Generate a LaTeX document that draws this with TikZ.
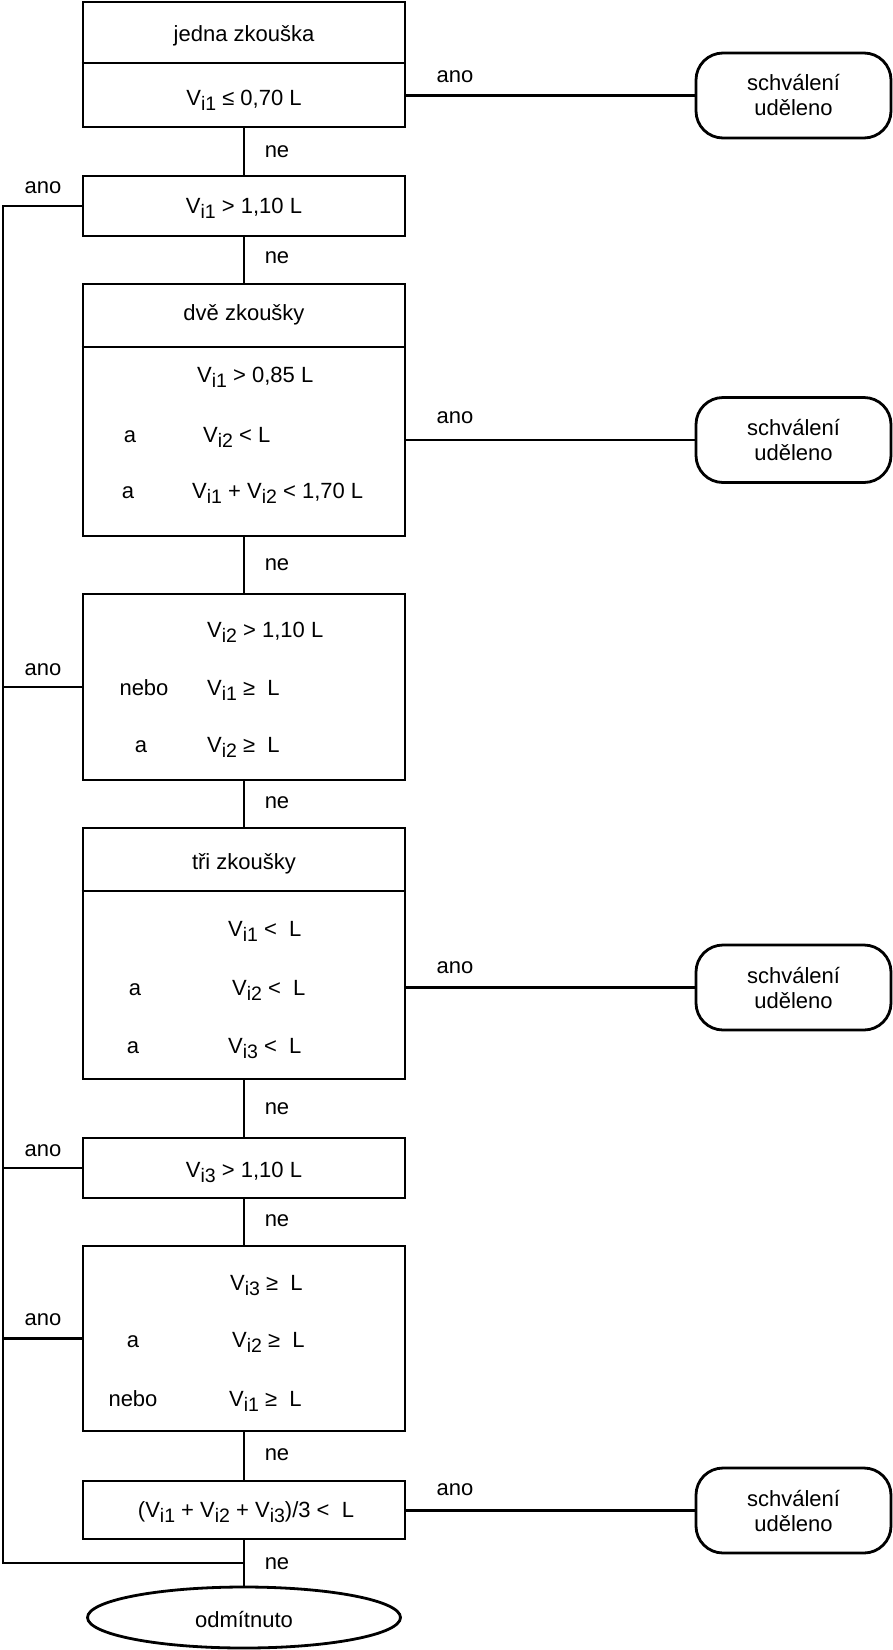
\documentclass[tikz,border=0pt]{standalone}
\usepackage{fontspec}
\setmainfont{Liberation Sans}
\usetikzlibrary{shapes.geometric}
\newcommand\Vi[1]{V\raisebox{-5.5pt}{\fontsize{19.5}{19.5}\selectfont #1}}
\begin{document}
\begin{tikzpicture}[x=1pt,y=-1pt,
  every node/.style={font=\fontsize{22}{25}\selectfont},
  ln/.style={line width=2.8pt},
  box/.style={draw, line width=2.8pt, rectangle, minimum width=322pt, inner sep=0pt},
  term/.style={draw, line width=2.8pt, rounded corners=27pt, minimum width=195pt, minimum height=85pt, align=center, inner sep=0pt},
  txt/.style={anchor=base, inner sep=0pt},
  txl/.style={anchor=base west, inner sep=0pt},
  lab/.style={inner sep=0pt}]
\useasboundingbox (0,0) rectangle (893,1650);

% boxes
\node[box, minimum height=125pt] (b1) at (244,64.5) {};
\node[box, minimum height=60pt]  (b2) at (244,206) {};
\node[box, minimum height=252pt] (b3) at (244,410) {};
\node[box, minimum height=186pt] (b4) at (244,687) {};
\node[box, minimum height=251pt] (b5) at (244,953.5) {};
\node[box, minimum height=60pt]  (b6) at (244,1168) {};
\node[box, minimum height=185pt] (b7) at (244,1338.5) {};
\node[box, minimum height=58pt]  (b8) at (244,1510) {};
\node[draw, line width=2.8pt, ellipse, minimum width=313pt, minimum height=61pt, inner sep=0pt] (rej) at (244,1617.5) {};
\node[txt] (rejt) at (244,1627) {odmítnuto};

% dividers
\coordinate (d1) at (0,63);
\coordinate (d3) at (0,347);
\coordinate (d5) at (0,891);
\draw[ln] (b1.west |- d1) -- (b1.east |- d1);
\draw[ln] (b3.west |- d3) -- (b3.east |- d3);
\draw[ln] (b5.west |- d5) -- (b5.east |- d5);

% terminators
\node[term] (t1) at (793.5,95.5) {schválení\\uděleno};
\node[term] (t2) at (793.5,440) {schválení\\uděleno};
\node[term] (t3) at (793.5,987.5) {schválení\\uděleno};
\node[term] (t4) at (793.5,1510.5) {schválení\\uděleno};

% box texts
\node[txt] (x1a) at (244,41) {jedna zkouška};
\node[txt] (x1b) at (244,105) {\Vi{i1} ≤ 0,70 L};
\node[txt] (x2) at (244,213) {\Vi{i1} > 1,10 L};
\node[txt] (x3h) at (244,320) {dvě zkoušky};
\node[txl] (x3a) at (197,382) {\Vi{i1} > 0,85 L};
\node[txt] (x3ba) at (130,442) {a};
\node[txl] (x3b) at (203,442) {\Vi{i2} < L};
\node[txt] (x3ca) at (128,498) {a};
\node[txl] (x3c) at (192,498) {\Vi{i1} + \Vi{i2} < 1,70 L};

\node[txl] (x4a) at (207,637) {\Vi{i2} > 1,10 L};
\node[txt] (x4ba) at (144,695) {nebo};
\node[txl] (x4b) at (207,695) {\Vi{i1} ≥\ \ L};
\node[txt] (x4ca) at (141,752) {a};
\node[txl] (x4c) at (207,752) {\Vi{i2} ≥\ \ L};

\node[txt] (x5h) at (244,869) {tři zkoušky};
\node[txl] (x5a) at (228,936) {\Vi{i1} <\ \ L};
\node[txt] (x5ba) at (135,995) {a};
\node[txl] (x5b) at (232,995) {\Vi{i2} <\ \ L};
\node[txt] (x5ca) at (133,1053) {a};
\node[txl] (x5c) at (228,1053) {\Vi{i3} <\ \ L};

\node[txt] (x6) at (244,1177) {\Vi{i3} > 1,10 L};

\node[txl] (x7a) at (230,1290) {\Vi{i3} ≥\ \ L};
\node[txt] (x7ba) at (133,1347) {a};
\node[txl] (x7b) at (232,1347) {\Vi{i2} ≥\ \ L};
\node[txt] (x7ca) at (133,1406) {nebo};
\node[txl] (x7c) at (229,1406) {\Vi{i1} ≥\ \ L};

\node[txt] (x8) at (246,1517) {(\Vi{i1} + \Vi{i2} + \Vi{i3})/3 <\ \ L};

% vertical connectors
\draw[ln] (b1.south) -- (b2.north);
\draw[ln] (b2.south) -- (b3.north);
\draw[ln] (b3.south) -- (b4.north);
\draw[ln] (b4.south) -- (b5.north);
\draw[ln] (b5.south) -- (b6.north);
\draw[ln] (b6.south) -- (b7.north);
\draw[ln] (b7.south) -- (b8.north);
\draw[ln] (b8.south) -- (rej.north);

% ano to terminators
\draw[ln] (t1.west -| b1.east) -- (t1.west);
\draw[ln] (t2.west -| b3.east) -- (t2.west);
\draw[ln] (t3.west -| b5.east) -- (t3.west);
\draw[ln] (t4.west -| b8.east) -- (t4.west);

% left bus
\coordinate (busA) at (3,206);
\coordinate (busB) at (3,1563);
\coordinate (join) at (244,1563);
\draw[ln] (b2.west) -- (busA) -- (busB) -- (join);
\draw[ln] (b4.west) -- (b4.west -| busA);
\draw[ln] (b6.west) -- (b6.west -| busA);
\draw[ln] (b7.west) -- (b7.west -| busA);

% ne labels
\node[lab] (n1) at (277,152) {ne};
\node[lab] (n2) at (277,258) {ne};
\node[lab] (n3) at (277,565) {ne};
\node[lab] (n4) at (277,803) {ne};
\node[lab] (n5) at (277,1109) {ne};
\node[lab] (n6) at (277,1221) {ne};
\node[lab] (n7) at (277,1455) {ne};
\node[lab] (n8) at (277,1564) {ne};

% ano labels right
\node[lab] (a1) at (455,77) {ano};
\node[lab] (a2) at (455,418) {ano};
\node[lab] (a3) at (455,968) {ano};
\node[lab] (a4) at (455,1490) {ano};

% ano labels left
\node[lab] (l1) at (43,188) {ano};
\node[lab] (l2) at (43,670) {ano};
\node[lab] (l3) at (43,1151) {ano};
\node[lab] (l4) at (43,1320) {ano};
\end{tikzpicture}
\end{document}
